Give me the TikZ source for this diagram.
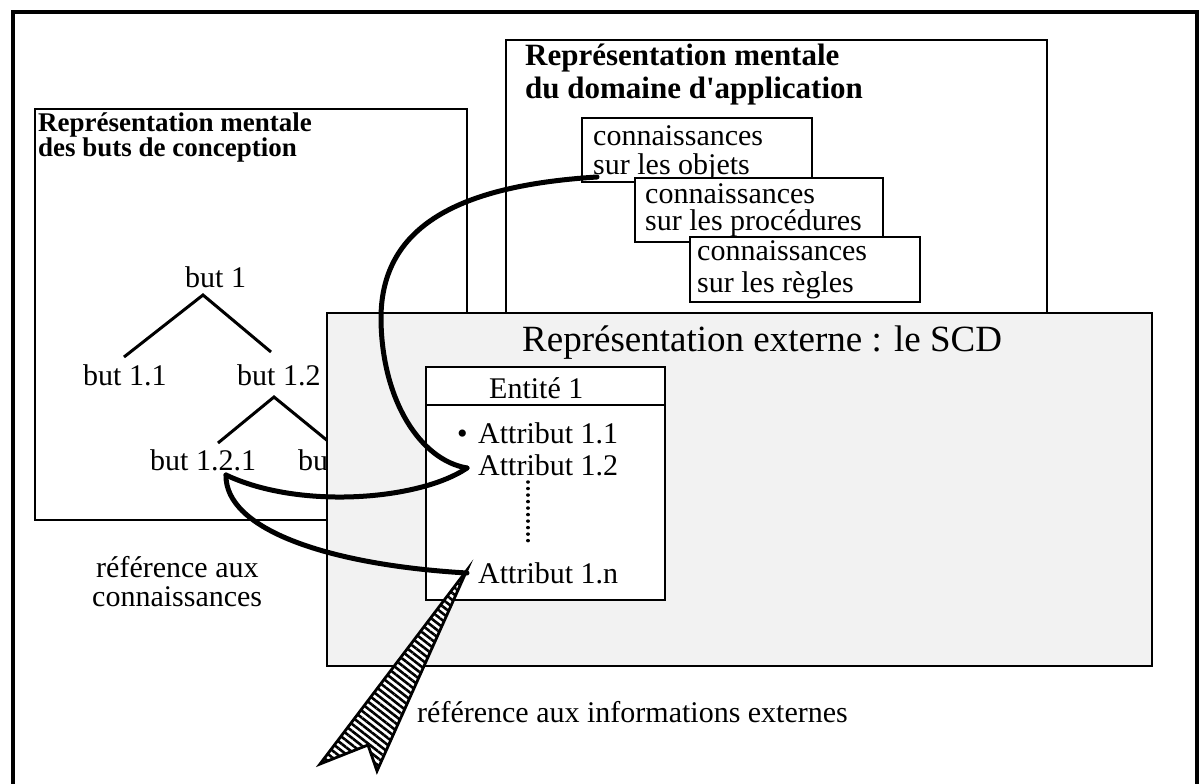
\documentclass[tikz,border=0pt]{standalone}
\usepackage{fontspec}
\setmainfont{Liberation Serif}
\usetikzlibrary{patterns.meta}

\begin{document}
\begin{tikzpicture}[x=1pt,y=-1pt,
  frameline/.style={line width=4.5pt},
  panel/.style={draw, line width=2.6pt, fill=white, anchor=north west, inner sep=0pt, outer sep=0pt},
  card/.style={draw, line width=2pt, fill=white, anchor=north west, inner sep=0pt, outer sep=0pt},
  extpanel/.style={draw, line width=2.6pt, fill=black!5, anchor=north west, inner sep=0pt, outer sep=0pt},
  txt/.style={anchor=base west, inner sep=0pt, font=\fontsize{30}{30}\selectfont},
  ttl/.style={anchor=base west, inner sep=0pt, font=\fontsize{27}{27}\selectfont\bfseries},
  bigttl/.style={anchor=base west, inner sep=0pt, font=\fontsize{31}{31}\selectfont\bfseries},
  scdttl/.style={anchor=base west, inner sep=0pt, font=\fontsize{37}{37}\selectfont},
  branch/.style={line width=3pt},
  link/.style={line width=5pt, line cap=round},
  hatched/.style={line width=2.8pt, line join=miter, preaction={fill=white},
    pattern={Lines[angle=-38,distance=5.5pt,line width=2.6pt]}}
]
\useasboundingbox (0,0) rectangle (1199,784);

% outer frame
\draw[frameline] (13,784) -- (13,12) -- (1197,12) -- (1197,784);

% goals panel
\node[panel, minimum width=432pt, minimum height=411pt] (goals) at (35,109) {};
\node[ttl] (goalsT1) at (38,131) {Représentation mentale};
\node[ttl] (goalsT2) at (38,156) {des buts de conception};

% goal tree
\node[txt] (but1) at (185,287) {but 1};
\node[txt] (but11) at (83,385) {but 1.1};
\node[txt] (but12) at (237,385) {but 1.2};
\node[txt] (but121) at (150,470) {but 1.2.1};
\node[txt] (but122) at (298,470) {but 1.2.2};
\coordinate (apexA) at (203,295);
\coordinate (legA1) at (124,357);
\coordinate (legA2) at (271,352);
\coordinate (apexB) at (274,397);
\coordinate (legB1) at (218,443);
\coordinate (legB2) at (345,455);
\draw[branch] (legA1) -- (apexA) -- (legA2);
\draw[branch] (legB1) -- (apexB) -- (legB2);

% domain panel
\node[panel, minimum width=541pt, minimum height=290pt] (domain) at (506,40) {};
\node[bigttl] (domT1) at (525,66) {Représentation mentale};
\node[bigttl] (domT2) at (525,98) {du domaine d\textquotesingle application};

\node[card, minimum width=230pt, minimum height=64pt] (objets) at (582,118) {};
\node[txt] (objL1) at (593,145) {connaissances};
\node[txt] (objL2) at (593,174) {sur les objets};

\node[card, minimum width=248pt, minimum height=64pt] (procs) at (635,178) {};
\node[txt] (procL1) at (645,203) {connaissances};
\node[txt] (procL2) at (645,230) {sur les procédures};

\node[card, minimum width=230pt, minimum height=65pt] (regles) at (690,237) {};
\node[txt] (regL1) at (697,260) {connaissances};
\node[txt] (regL2) at (697,292) {sur les règles};

% external representation panel
\node[extpanel, minimum width=825pt, minimum height=353pt] (scd) at (327,313) {};
\node[scdttl] (scdT) at (522,351) {Représentation externe : le SCD};

% entity
\node[card, line width=2.4pt, minimum width=239pt, minimum height=233pt] (entity) at (426,367) {};
\node[card, line width=2.4pt, minimum width=239pt, minimum height=38pt] (enthead) at (426,367) {};
\node[txt] (entT) at (489,398) {Entité 1};
\node[txt] (bullet) at (457,443) {•};
\node[txt] (att11) at (478,443) {Attribut 1.1};
\node[txt] (att12) at (478,475) {Attribut 1.2};
\node[txt] (att1n) at (478,583) {Attribut 1.n};
\coordinate (dotsTop) at (528,482);
\coordinate (dotsBot) at (528,547);
\draw[line width=3.5pt, line cap=round, dash pattern=on 0.01pt off 6.5pt] (dotsTop) -- (dotsBot);

% reference links
\coordinate (objTip) at (597,177);
\coordinate (a12Tip) at (467,468);
\coordinate (b121Tip) at (226,475);
\coordinate (a1nTip) at (467,573);
\draw[link] (objTip) .. controls (470,185) and (380,220) .. (381,320)
                     .. controls (382,400) and (420,460) .. (a12Tip);
\draw[link] (a12Tip) .. controls (420,500) and (300,510) .. (b121Tip);
\draw[link] (b121Tip) .. controls (225,530) and (330,565) .. (a1nTip);

% pointer to external information
\coordinate (ptrTip) at (467,570);
\coordinate (ptrL) at (320,764);
\coordinate (ptrN) at (368,745);
\coordinate (ptrR) at (377,771);
\draw[hatched] (ptrTip) -- (ptrL) -- (ptrN) -- (ptrR) -- cycle;

% labels
\node[txt] (refC1) at (96,577) {référence aux};
\node[txt] (refC2) at (92,606) {connaissances};
\node[txt] (refE) at (417,722) {référence aux informations externes};
\end{tikzpicture}
\end{document}
